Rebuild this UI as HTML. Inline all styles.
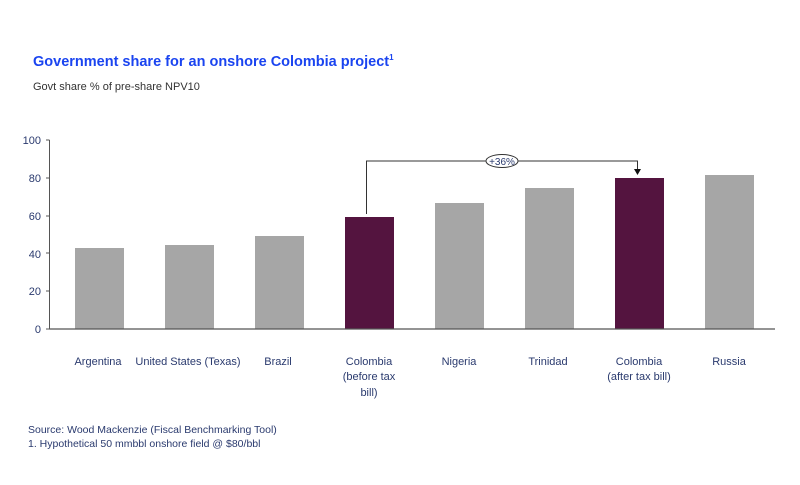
<!DOCTYPE html>
<html><head><meta charset="utf-8"><style>html,body{margin:0;padding:0;background:#fff}</style></head>
<body>
<svg width="800" height="480" xmlns="http://www.w3.org/2000/svg" font-family="Liberation Sans, sans-serif">
<text x="33" y="66" font-size="14.5" font-weight="bold" fill="#1a44f0">Government share for an onshore Colombia project<tspan font-size="8" dy="-6">1</tspan></text>
<text x="33" y="90" font-size="11" fill="#333">Govt share % of pre-share NPV10</text>
<g font-size="11" fill="#2a3a6e" text-anchor="end">
<text x="41" y="144">100</text><text x="41" y="182">80</text><text x="41" y="220">60</text>
<text x="41" y="258">40</text><text x="41" y="295">20</text><text x="41" y="333">0</text>
</g>
<g stroke="#555" stroke-width="1">
<line x1="49.5" y1="140" x2="49.5" y2="329"/>
<line x1="46" y1="140" x2="49.5" y2="140"/><line x1="46" y1="178" x2="49.5" y2="178"/>
<line x1="46" y1="216" x2="49.5" y2="216"/><line x1="46" y1="253" x2="49.5" y2="253"/>
<line x1="46" y1="291" x2="49.5" y2="291"/><line x1="46" y1="329" x2="49.5" y2="329"/>
</g>
<g>
<rect x="75" y="248" width="49" height="81" fill="#a6a6a6"/>
<rect x="165" y="245" width="49" height="84" fill="#a6a6a6"/>
<rect x="255" y="236" width="49" height="93" fill="#a6a6a6"/>
<rect x="345" y="217" width="49" height="112" fill="#54143f"/>
<rect x="435" y="203" width="49" height="126" fill="#a6a6a6"/>
<rect x="525" y="188" width="49" height="141" fill="#a6a6a6"/>
<rect x="615" y="178" width="49" height="151" fill="#54143f"/>
<rect x="705" y="175" width="49" height="154" fill="#a6a6a6"/>
</g>
<line x1="49.5" y1="329" x2="775" y2="329" stroke="#555" stroke-width="1.2"/>
<polyline points="366.5,214 366.5,161 637.5,161 637.5,169" fill="none" stroke="#333" stroke-width="1"/>
<polygon points="634,169 641,169 637.5,175" fill="#111"/>
<ellipse cx="502" cy="161" rx="16" ry="6.5" fill="#fff" stroke="#333" stroke-width="1"/>
<text x="502" y="165" font-size="10" fill="#2a3a6e" text-anchor="middle">+36%</text>
<g font-size="11" fill="#2a3a6e" text-anchor="middle">
<text x="98" y="365">Argentina</text>
<text x="188" y="365">United States (Texas)</text>
<text x="278" y="365">Brazil</text>
<text x="369" y="365">Colombia</text><text x="369" y="380">(before tax</text><text x="369" y="396">bill)</text>
<text x="459" y="365">Nigeria</text>
<text x="548" y="365">Trinidad</text>
<text x="639" y="365">Colombia</text><text x="639" y="380">(after tax bill)</text>
<text x="729" y="365">Russia</text>
</g>
<g font-size="10.5" fill="#2a3a6e">
<text x="28" y="433">Source: Wood Mackenzie (Fiscal Benchmarking Tool)</text>
<text x="28" y="447">1. Hypothetical 50 mmbbl onshore field @ $80/bbl</text>
</g>
</svg>
</body></html>
